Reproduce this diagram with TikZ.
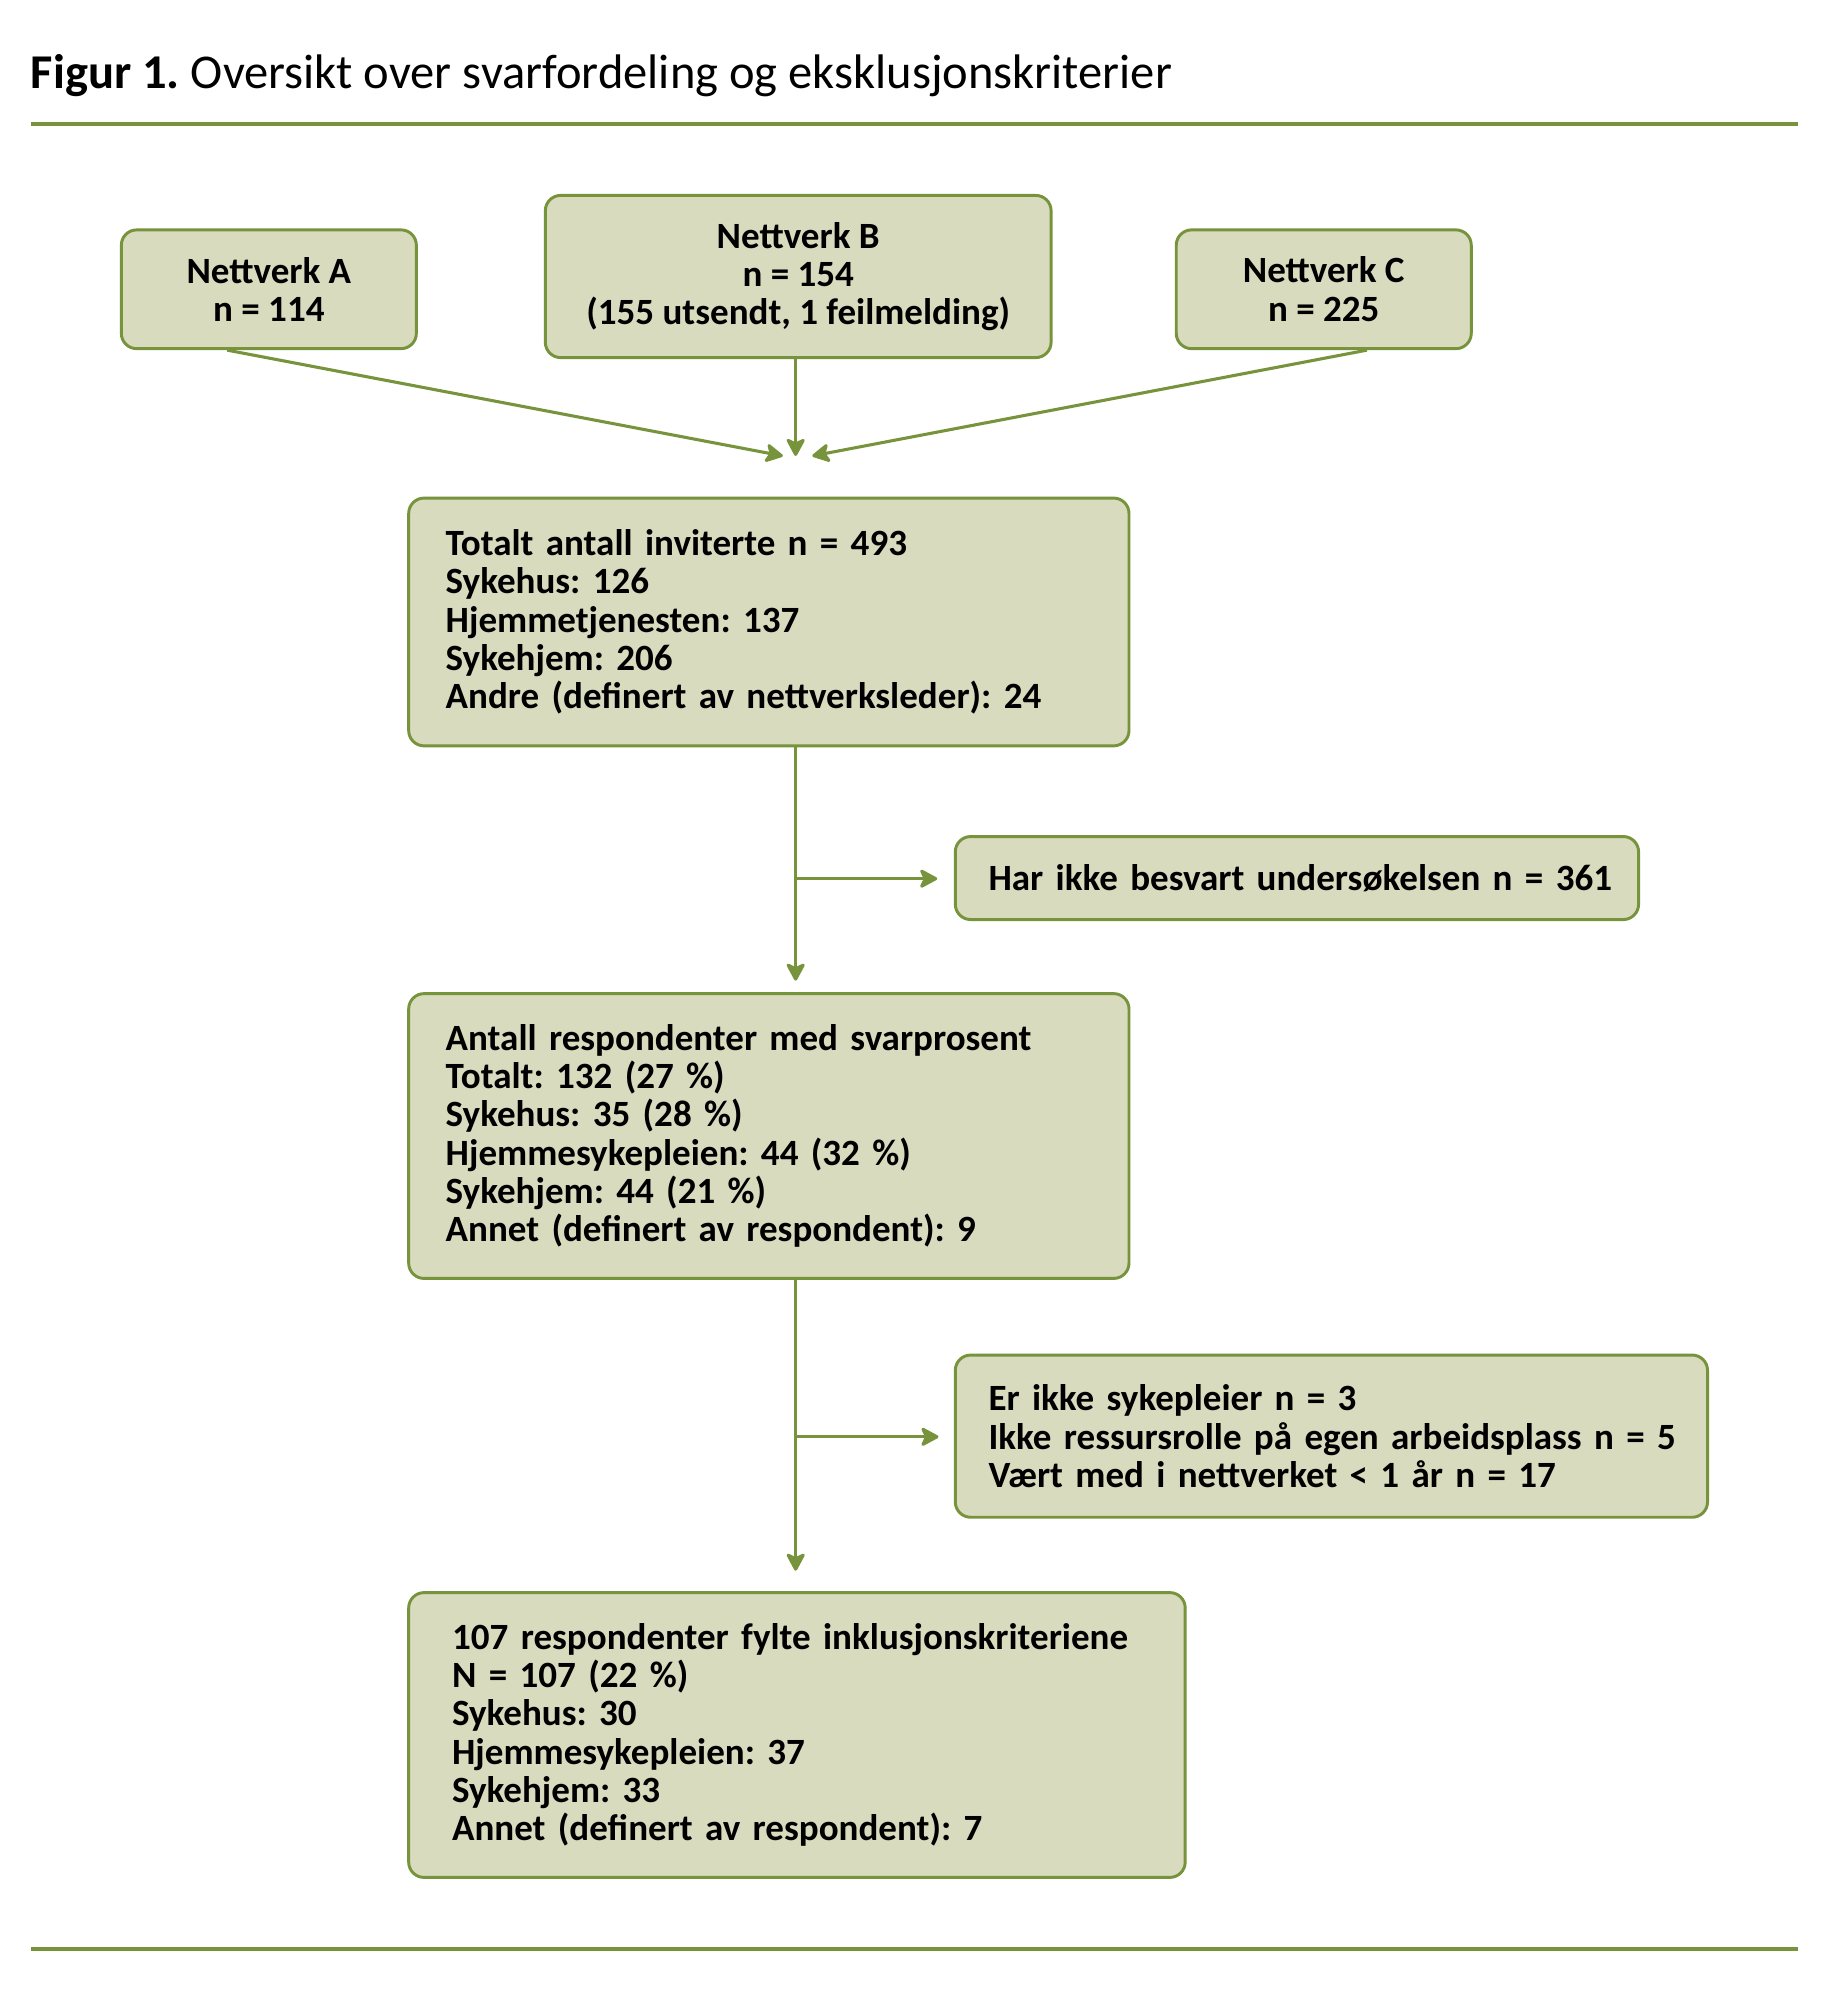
\documentclass[tikz,border=0pt]{standalone}
\usepackage{fontspec}
\setmainfont{Carlito}
\frenchspacing
\usetikzlibrary{arrows.meta,calc}
\definecolor{gline}{HTML}{77933C}
\definecolor{gfill}{HTML}{D8DBBE}
\newcommand\keepline[1]{\mbox{#1}}
\tikzset{
  box/.style={draw=gline, fill=gfill, line width=2.3pt, rounded corners=12pt,
    font=\fontsize{29}{30}\selectfont\bfseries, inner sep=0pt},
  cbox/.style={box, align=center},
  lbox/.style={box, align=left},
  conn/.style={draw=gline, line width=2.4pt,
    -{Stealth[length=16pt,width=17pt,inset=4pt,round]}},
  rule/.style={draw=gline, line width=3pt}
}
\begin{document}
\begin{tikzpicture}[x=1pt,y=-1pt]
\useasboundingbox (0,0) rectangle (1430,1566);
% title
\node[anchor=base west, inner sep=0pt, font=\fontsize{38}{44}\selectfont] (title) at (24,69) {\textbf{Figur 1.} Oversikt over svarfordeling og eksklusjonskriterier};
\coordinate (r1a) at (24,97); \coordinate (r1b) at (1408,97);
\coordinate (r2a) at (24,1526); \coordinate (r2b) at (1408,1526);
\draw[rule] (r1a) -- (r1b);
\draw[rule] (r2a) -- (r2b);
% top boxes
\node[cbox, minimum width=231pt, minimum height=93pt] (A) at (210.5,226.5) {Nettverk A\\n = 114};
\node[cbox, minimum width=396pt, minimum height=127pt] (B) at (625,216.5) {Nettverk B\\n = 154\\(155 utsendt, 1 feilmelding)};
\node[cbox, minimum width=231pt, minimum height=93pt] (C) at (1036.5,226.5) {Nettverk C\\n = 225};
% merge point
\coordinate (mA) at (613,357);
\coordinate (mB) at (623,357);
\coordinate (mC) at (636,357);
\draw[conn] ($(A.south west)!0.36!(A.south east)$) -- (mA);
\draw[conn] (B.south -| mB) -- (mB);
\draw[conn] ($(C.south west)!0.645!(C.south east)$) -- (mC);
% main boxes
\node[lbox, inner xsep=29pt, minimum width=564pt, minimum height=194pt, text width=506pt] (T) at (602,487)
 {Totalt antall inviterte n = 493\\Sykehus: 126\\Hjemmetjenesten: 137\\Sykehjem: 206\\Andre (definert av nettverksleder): 24};
\node[lbox, inner xsep=26pt, minimum width=535pt, minimum height=65pt, text width=483pt] (H) at (1015.5,687.5)
 {\keepline{Har ikke besvart undersøkelsen n = 361}};
\node[lbox, inner xsep=29pt, minimum width=564pt, minimum height=223pt, text width=506pt] (R) at (602,889.5)
 {Antall respondenter med svarprosent\\Totalt: 132 (27 \%)\\Sykehus: 35 (28 \%)\\Hjemmesykepleien: 44 (32 \%)\\Sykehjem: 44 (21 \%)\\Annet (definert av respondent): 9};
\node[lbox, inner xsep=26pt, minimum width=589pt, minimum height=127pt, text width=537pt] (E) at (1042.5,1124.5)
 {Er ikke sykepleier n = 3\\\keepline{Ikke ressursrolle på egen arbeidsplass n = 5}\\Vært med i nettverket < 1 år n = 17};
\node[lbox, inner xsep=34pt, minimum width=608pt, minimum height=223pt, text width=540pt] (F) at (624,1358.5)
 {\keepline{107 respondenter fylte inklusjonskriteriene}\\N = 107 (22 \%)\\Sykehus: 30\\Hjemmesykepleien: 37\\Sykehjem: 33\\Annet (definert av respondent): 7};
% spine connectors
\coordinate (s1) at (623,688);
\coordinate (s2) at (623,1125);
\draw[conn, shorten >=9pt] (T.south -| s1) -- (R.north -| s1);
\draw[conn, shorten >=13pt] (s1) -- (H.west |- s1);
\draw[conn, shorten >=16pt] (R.south -| s2) -- (F.north -| s2);
\draw[conn, shorten >=12pt] (s2) -- (E.west |- s2);
\end{tikzpicture}
\end{document}
